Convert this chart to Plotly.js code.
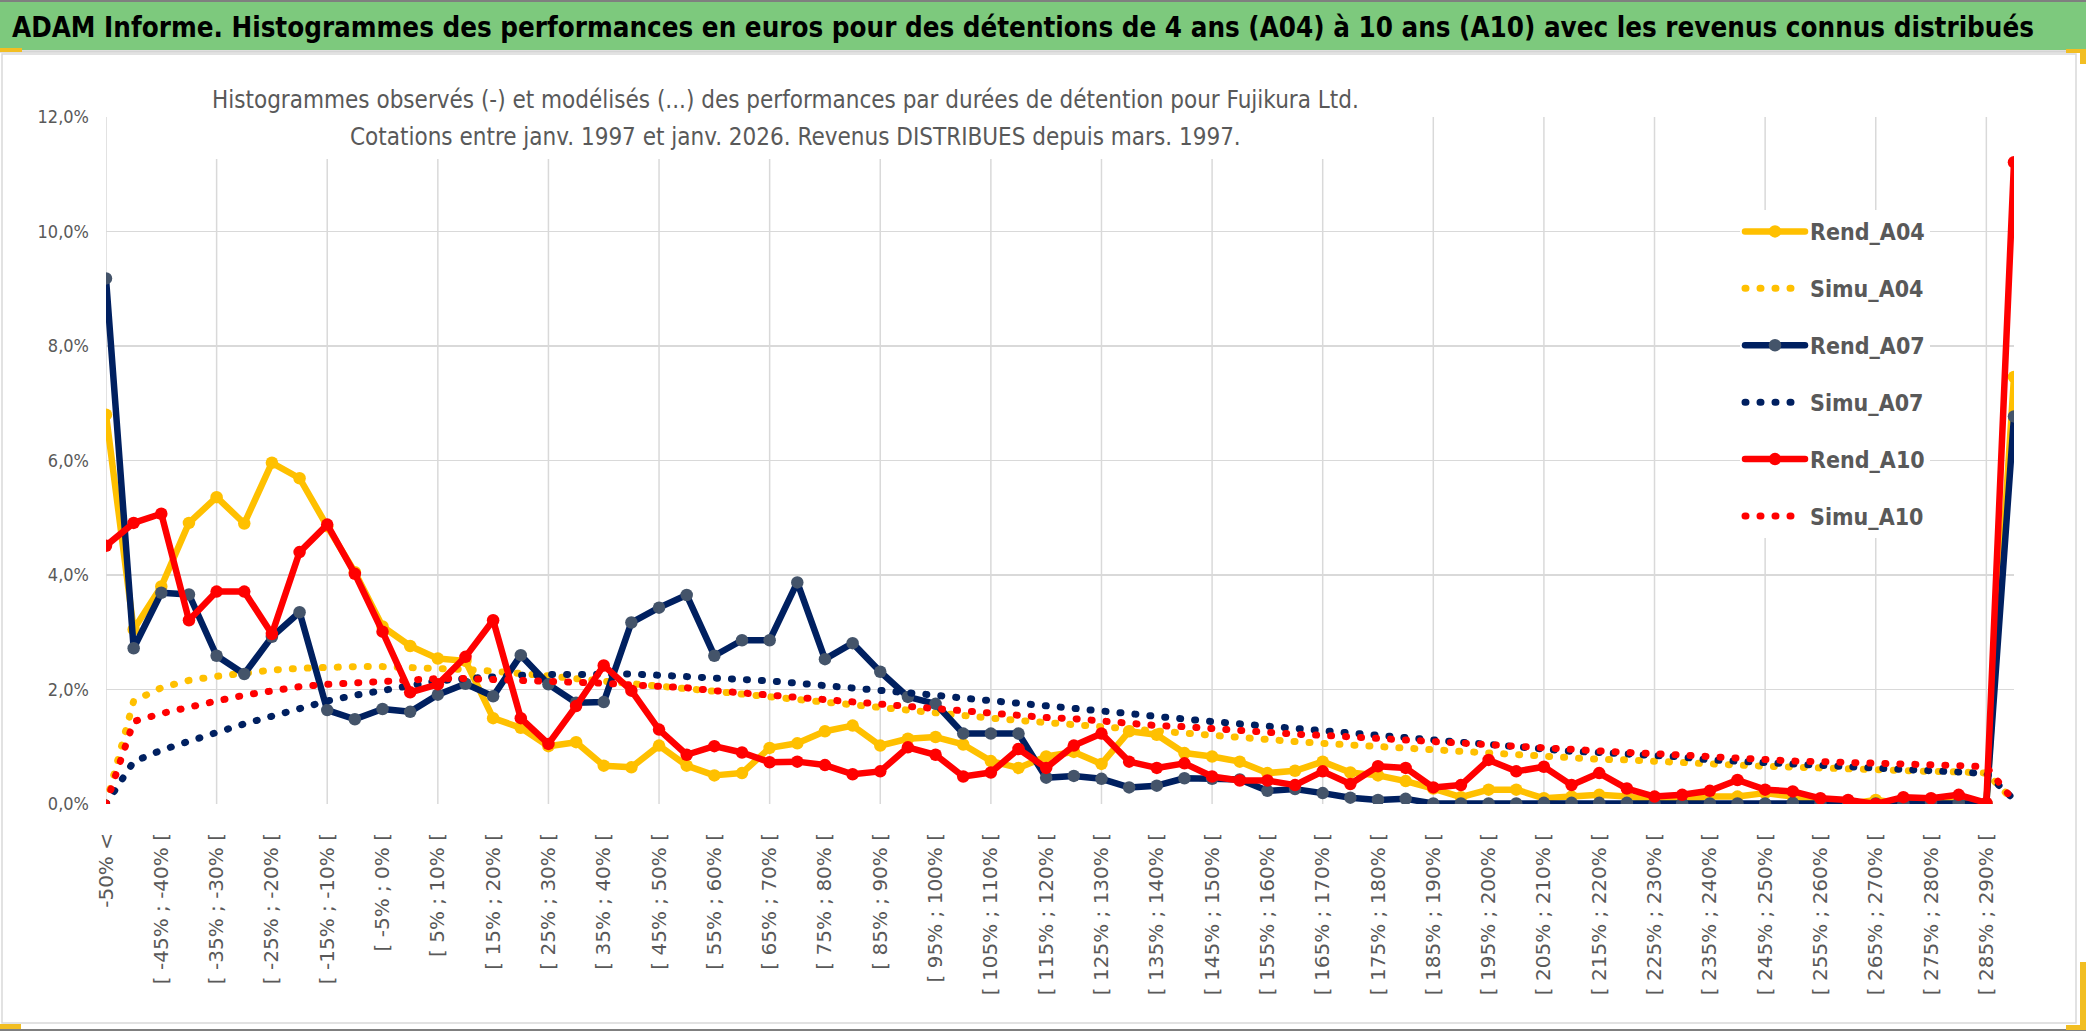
<!DOCTYPE html>
<html>
<head>
<meta charset="utf-8">
<script src="https://cdn.plot.ly/plotly-3.0.1.min.js"></script>
<style>
  html, body { margin: 0; padding: 0; background: #ffffff; }
  #chart { width: 2086px; height: 1031px; }
  .js-line { stroke-linecap: round; stroke-linejoin: round; }
</style>
</head>
<body>
<div id="chart"></div>
<script>
// ---------- DATA ----------
const categories = [
  "-50% <", "[ -50% ; -45% [", "[ -45% ; -40% [", "[ -40% ; -35% [", "[ -35% ; -30% [",
  "[ -30% ; -25% [", "[ -25% ; -20% [", "[ -20% ; -15% [", "[ -15% ; -10% [", "[ -10% ; -5% [",
  "[ -5% ; 0% [", "[ 0% ; 5% [", "[ 5% ; 10% [", "[ 10% ; 15% [", "[ 15% ; 20% [",
  "[ 20% ; 25% [", "[ 25% ; 30% [", "[ 30% ; 35% [", "[ 35% ; 40% [", "[ 40% ; 45% [",
  "[ 45% ; 50% [", "[ 50% ; 55% [", "[ 55% ; 60% [", "[ 60% ; 65% [", "[ 65% ; 70% [",
  "[ 70% ; 75% [", "[ 75% ; 80% [", "[ 80% ; 85% [", "[ 85% ; 90% [", "[ 90% ; 95% [",
  "[ 95% ; 100% [", "[ 100% ; 105% [", "[ 105% ; 110% [", "[ 110% ; 115% [", "[ 115% ; 120% [",
  "[ 120% ; 125% [", "[ 125% ; 130% [", "[ 130% ; 135% [", "[ 135% ; 140% [", "[ 140% ; 145% [",
  "[ 145% ; 150% [", "[ 150% ; 155% [", "[ 155% ; 160% [", "[ 160% ; 165% [", "[ 165% ; 170% [",
  "[ 170% ; 175% [", "[ 175% ; 180% [", "[ 180% ; 185% [", "[ 185% ; 190% [", "[ 190% ; 195% [",
  "[ 195% ; 200% [", "[ 200% ; 205% [", "[ 205% ; 210% [", "[ 210% ; 215% [", "[ 215% ; 220% [",
  "[ 220% ; 225% [", "[ 225% ; 230% [", "[ 230% ; 235% [", "[ 235% ; 240% [", "[ 240% ; 245% [",
  "[ 245% ; 250% [", "[ 250% ; 255% [", "[ 255% ; 260% [", "[ 260% ; 265% [", "[ 265% ; 270% [",
  "[ 270% ; 275% [", "[ 275% ; 280% [", "[ 280% ; 285% [", "[ 285% ; 290% [", "> 290%"
];

// values in percent
const rend_A04 = [
  6.80, 3.05, 3.80, 4.91, 5.36, 4.90, 5.96, 5.69, 4.85, 4.05,
  3.10, 2.76, 2.54, 2.50, 1.50, 1.33, 1.01, 1.08, 0.67, 0.64,
  1.02, 0.67, 0.50, 0.54, 0.98, 1.06, 1.27, 1.37, 1.02, 1.14,
  1.17, 1.04, 0.75, 0.63, 0.83, 0.91, 0.70, 1.27, 1.21, 0.89,
  0.83, 0.74, 0.54, 0.58, 0.74, 0.55, 0.50, 0.40, 0.27, 0.12,
  0.25, 0.25, 0.10, 0.13, 0.16, 0.13, 0.07, 0.07, 0.13, 0.13,
  0.19, 0.13, 0.04, 0.00, 0.07, 0.01, 0.04, 0.04, 0.01, 7.46
];
const simu_A04 = [
  0.00, 1.80, 2.03, 2.16, 2.23, 2.29, 2.34, 2.37, 2.40, 2.40,
  2.40, 2.39, 2.38, 2.35, 2.32, 2.29, 2.24, 2.19, 2.14, 2.11,
  2.07, 2.02, 1.97, 1.92, 1.87, 1.83, 1.78, 1.73, 1.68, 1.64,
  1.60, 1.55, 1.50, 1.46, 1.42, 1.39, 1.36, 1.32, 1.28, 1.23,
  1.18, 1.15, 1.12, 1.09, 1.06, 1.03, 1.00, 0.96, 0.94, 0.91,
  0.87, 0.86, 0.83, 0.81, 0.78, 0.77, 0.74, 0.71, 0.70, 0.68,
  0.66, 0.64, 0.63, 0.61, 0.60, 0.58, 0.57, 0.56, 0.54, 0.05
];
const rend_A07 = [
  9.18, 2.72, 3.69, 3.66, 2.59, 2.27, 2.92, 3.35, 1.64, 1.48,
  1.66, 1.61, 1.91, 2.10, 1.88, 2.60, 2.09, 1.77, 1.78, 3.17,
  3.43, 3.65, 2.59, 2.86, 2.86, 3.87, 2.53, 2.81, 2.31, 1.87,
  1.75, 1.23, 1.23, 1.23, 0.46, 0.49, 0.44, 0.29, 0.32, 0.45,
  0.44, 0.43, 0.23, 0.26, 0.19, 0.11, 0.07, 0.09, 0.01, 0.01,
  0.01, 0.01, 0.02, 0.02, 0.02, 0.02, 0.01, 0.01, 0.01, 0.01,
  0.01, 0.02, 0.01, 0.02, 0.01, 0.01, 0.03, 0.02, 0.01, 6.77
];
const simu_A07 = [
  0.00, 0.74, 0.94, 1.08, 1.25, 1.40, 1.54, 1.67, 1.80, 1.90,
  1.99, 2.07, 2.15, 2.19, 2.23, 2.25, 2.26, 2.27, 2.27, 2.27,
  2.25, 2.23, 2.20, 2.18, 2.15, 2.11, 2.07, 2.04, 2.01, 1.95,
  1.90, 1.85, 1.81, 1.75, 1.70, 1.66, 1.63, 1.58, 1.53, 1.50,
  1.44, 1.40, 1.36, 1.30, 1.26, 1.23, 1.19, 1.15, 1.11, 1.08,
  1.04, 1.01, 0.95, 0.92, 0.90, 0.88, 0.86, 0.82, 0.77, 0.75,
  0.71, 0.70, 0.67, 0.65, 0.63, 0.60, 0.58, 0.56, 0.53, 0.08
];
const rend_A10 = [
  4.51, 4.91, 5.07, 3.21, 3.71, 3.71, 2.97, 4.40, 4.88, 4.02,
  3.01, 1.95, 2.09, 2.57, 3.21, 1.50, 1.05, 1.71, 2.42, 1.98,
  1.30, 0.86, 1.01, 0.90, 0.73, 0.74, 0.68, 0.52, 0.57, 0.99,
  0.86, 0.48, 0.55, 0.96, 0.63, 1.02, 1.23, 0.74, 0.63, 0.71,
  0.48, 0.41, 0.41, 0.33, 0.57, 0.35, 0.66, 0.63, 0.29, 0.33,
  0.77, 0.57, 0.65, 0.33, 0.54, 0.27, 0.13, 0.16, 0.23, 0.42,
  0.25, 0.22, 0.10, 0.07, 0.00, 0.12, 0.10, 0.16, 0.02, 11.21
];
const simu_A10 = [
  0.00, 1.44, 1.58, 1.70, 1.80, 1.90, 1.98, 2.05, 2.09, 2.12,
  2.16, 2.19, 2.19, 2.19, 2.18, 2.15, 2.15, 2.13, 2.11, 2.08,
  2.06, 2.03, 1.98, 1.94, 1.89, 1.86, 1.82, 1.78, 1.74, 1.71,
  1.67, 1.63, 1.59, 1.55, 1.51, 1.49, 1.44, 1.41, 1.37, 1.35,
  1.31, 1.28, 1.25, 1.22, 1.20, 1.17, 1.15, 1.12, 1.09, 1.07,
  1.04, 1.01, 0.96, 0.94, 0.91, 0.90, 0.88, 0.85, 0.82, 0.79,
  0.77, 0.75, 0.74, 0.73, 0.73, 0.71, 0.70, 0.67, 0.65, 0.05
];

const yTicks = [0, 0.02, 0.04, 0.06, 0.08, 0.10, 0.12];

const titleText = "ADAM Informe. Histogrammes des performances en euros pour des détentions de 4 ans (A04) à 10 ans (A10) avec les revenus connus distribués";
const subtitleLine1 = "Histogrammes observés (-) et modélisés (...) des performances par durées de détention pour Fujikura Ltd.";
const subtitleLine2 = "Cotations entre janv. 1997 et janv. 2026. Revenus DISTRIBUES depuis mars. 1997.";

// ---------- STYLE ----------
const NARROW = "'Liberation Sans Narrow', 'Arial Narrow', 'DejaVu Sans Condensed', sans-serif";
const GRAY = "#595959";
const GRID = "#D9D9D9";
const YELLOW = "#FFC000", NAVY = "#002060", RED = "#FF0000", NAVYMARK = "#44546A";

const pct = a => a.map(v => v / 100);

function rend(name, vals, lineColor, markColor) {
  return {
    type: "scatter", mode: "lines+markers", name: name, legendgroup: name,
    x: categories, y: pct(vals),
    line: { color: lineColor, width: 6.5 },
    marker: { color: markColor, size: 12.5, line: { width: 0 } }
  };
}
function simu(name, vals, color) {
  return {
    type: "scatter", mode: "lines", name: name, legendgroup: name,
    x: categories, y: pct(vals),
    line: { color: color, width: 7, dash: "1px,14px" }
  };
}

const data = [
  rend("Rend_A04", rend_A04, YELLOW, YELLOW),
  simu("Simu_A04", simu_A04, YELLOW),
  rend("Rend_A07", rend_A07, NAVY, NAVYMARK),
  simu("Simu_A07", simu_A07, NAVY),
  rend("Rend_A10", rend_A10, RED, RED),
  simu("Simu_A10", simu_A10, RED)
];

// axis helpers (from the category list)
const gridCats = categories.filter((c, i) => i % 4 === 0);
const labelCats = categories.filter((c, i) => i % 2 === 0);
const lastIdx = categories.length - 1;

// pixel -> paper helpers for decorations only
const W = 2086, H = 1031, ML = 106, MR = 72, MT = 117, MB = 227;
const PW = W - ML - MR, PH = H - MT - MB;
const px = x => (x - ML) / PW;
const py = y => (H - MB - y) / PH;

function rect(x0, y0, x1, y1, fill, lineColor, lw) {
  return {
    type: "rect", xref: "paper", yref: "paper",
    x0: px(x0), x1: px(x1), y0: py(y1), y1: py(y0),
    fillcolor: fill || "rgba(0,0,0,0)",
    line: { color: lineColor || "rgba(0,0,0,0)", width: lw || 0 },
    layer: "above"
  };
}
function hline(x0, x1, y, color, lw) {
  return { type: "line", xref: "paper", yref: "paper", x0: px(x0), x1: px(x1), y0: py(y), y1: py(y),
           line: { color: color, width: lw }, layer: "above" };
}

// vertical gridlines every 4 categories
const vGrid = gridCats.map(c => ({
  type: "line", xref: "x", yref: "paper", x0: c, x1: c, y0: 0, y1: 1,
  line: { color: GRID, width: 1.5 }, layer: "below"
}));

const shapes = vGrid.concat([
  rect(200, 108, 1393, 159, "#ffffff"),
  rect(0, 0, W, 50, "#7DC97D"),
  hline(0, W, 1, "#7F7F7F", 2),
  hline(0, W, 51.5, "#D4D4D4", 2.5),
  rect(2, 54, 2076, 1023, null, "#D9D9D9", 1.5),
  hline(0, W, 1030, "#7F7F7F", 2),
  rect(0, 48, 22, 52, "#F2BE22"),
  rect(2066, 49, 2086, 53, "#F2BE22"),
  rect(2080, 49, 2086, 64, "#F2BE22"),
  rect(2080, 962, 2086, 1030, "#F2BE22"),
  rect(2066, 1025, 2086, 1030, "#F2BE22"),
  rect(0, 1024, 21, 1029, "#F2BE22")
]);

const layout = {
  width: W, height: H,
  margin: { l: ML, r: MR, t: MT, b: MB, pad: 0 },
  paper_bgcolor: "#ffffff", plot_bgcolor: "#ffffff",
  separators: ", ",
  font: { family: NARROW, color: GRAY },
  title: {
    text: "<b>" + titleText + "</b>",
    font: { family: NARROW, size: 27.5, color: "#000000" },
    xref: "container", yref: "container",
    x: 1023 / W, xanchor: "center",
    y: 1 - 27 / H, yanchor: "middle"
  },
  xaxis: {
    type: "category", categoryorder: "array", categoryarray: categories,
    range: [0, lastIdx],
    tickmode: "array", tickvals: labelCats, ticktext: labelCats,
    tickangle: -90, ticklabelstandoff: 24,
    tickfont: { family: "'DejaVu Sans', Verdana, sans-serif", size: 20, color: GRAY },
    showgrid: false, zeroline: false, showline: false, ticks: "", fixedrange: true
  },
  yaxis: {
    range: [0, 0.12], tickmode: "array", tickvals: yTicks, tickformat: ".1%",
    tickfont: { family: NARROW, size: 18, color: GRAY },
    showgrid: true, gridcolor: GRID, gridwidth: 1.5,
    zeroline: false, showline: false, ticks: "", ticklabelstandoff: 16, fixedrange: true
  },
  legend: {
    x: px(1740), y: py(210), xanchor: "left", yanchor: "top",
    bgcolor: "#ffffff", borderwidth: 0,
    font: { family: NARROW, size: 23, color: GRAY, weight: "bold" },
    traceorder: "grouped", tracegroupgap: 24, itemwidth: 60
  },
  annotations: [
    {
      text: subtitleLine1, xref: "paper", yref: "paper",
      x: px(785), y: py(100), xanchor: "center", yanchor: "middle",
      showarrow: false, font: { family: NARROW, size: 24, color: GRAY }
    },
    {
      text: subtitleLine2, xref: "paper", yref: "paper",
      x: px(795), y: py(137), xanchor: "center", yanchor: "middle",
      showarrow: false, font: { family: NARROW, size: 24, color: GRAY }
    }
  ],
  shapes: shapes,
  showlegend: true,
  hovermode: false
};

Plotly.newPlot("chart", data, layout, { displayModeBar: false, staticPlot: true });
</script>
</body>
</html>
